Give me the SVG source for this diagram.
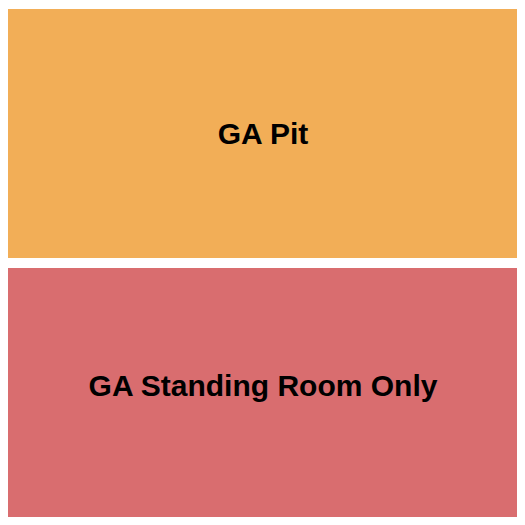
<svg xmlns="http://www.w3.org/2000/svg" width="525" height="525" viewBox="0 0 525 525">
<style>
.lbl{font-family:"Liberation Sans",Arial,sans-serif;font-weight:bold;font-size:30px;fill:#000;text-anchor:middle}
</style>
<rect width="525" height="525" fill="#fff"/>
<g id="ga-pit">
<rect x="8" y="9" width="509" height="249" fill="#F2AE57"/>
<text class="lbl" x="263" y="144">GA Pit</text>
</g>
<g id="ga-standing">
<rect x="8" y="268" width="509" height="249" fill="#D96D6F"/>
<text class="lbl" x="263" y="396">GA Standing Room Only</text>
</g>
<g id="connectors"/>
</svg>
